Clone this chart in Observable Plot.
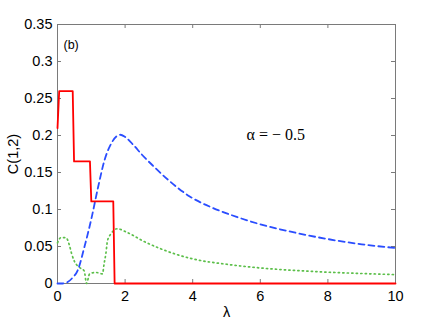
<!DOCTYPE html>
<html>
<head>
<meta charset="utf-8">
<script src="https://cdn.jsdelivr.net/npm/d3@7"></script>
<script src="https://cdn.jsdelivr.net/npm/@observablehq/plot@0.6"></script>
<style>
  html, body { margin: 0; padding: 0; background: #fff; }
  #chart svg { display: block; }
</style>
</head>
<body>
<div id="chart"></div>
<script>
// Tick labels
const xTicks = [0, 2, 4, 6, 8, 10];
const yTicks = [0, 0.05, 0.1, 0.15, 0.2, 0.25, 0.3, 0.35];

// Red solid series
const redX = [0, 0.05, 0.45, 0.49, 0.96, 1.0, 1.65, 1.69, 10];
const redY = [0.21, 0.26, 0.26, 0.165, 0.165, 0.111, 0.111, 0, 0];

// Blue dashed series
const blueX = [0, 0.15, 0.3, 0.45, 0.6, 0.8, 1.0, 1.2, 1.4, 1.6, 1.75, 1.86, 2.0, 2.25, 2.5, 2.85, 3.3, 3.9, 4.6, 5.3, 6, 7, 8, 9, 10];
const blueY = [0, 0, 0.002, 0.008, 0.018, 0.05, 0.087, 0.13, 0.168, 0.19, 0.199, 0.201, 0.198, 0.187, 0.174, 0.158, 0.139, 0.118, 0.102, 0.090, 0.080, 0.069, 0.060, 0.053, 0.048];

// Green dotted series
const greenX = [0, 0.1, 0.25, 0.35, 0.42, 0.5, 0.64, 0.79, 0.86, 0.95, 1.13, 1.33, 1.38, 1.43, 1.48, 1.58, 1.77, 2.06, 2.55, 3.05, 3.54, 4.03, 5, 6, 7, 8, 9, 10];
const greenY = [0.055, 0.062, 0.062, 0.052, 0.04, 0.03, 0.022, 0.017, 0, 0.013, 0.015, 0.013, 0.027, 0.04, 0.058, 0.067, 0.074, 0.069, 0.057, 0.047, 0.039, 0.033, 0.026, 0.021, 0.0177, 0.0153, 0.0135, 0.012];

const toRows = (xs, ys) => xs.map((x, i) => ({x, y: ys[i]}));
const red = toRows(redX, redY);
const blue = toRows(blueX, blueY);
const green = toRows(greenX, greenY);

const fmtY = d => d === 0 ? "0" : String(d);
const grey = "#7a7a7a";

const W = 436, H = 319, ML = 57, MR = 41, MT = 24, MB = 36;
const TS = 4;
const FW = W - ML - MR, FH = H - MT - MB;

const chart = Plot.plot({
  width: W,
  height: H,
  marginLeft: ML,
  marginRight: MR,
  marginTop: MT,
  marginBottom: MB,
  style: {fontFamily: "Liberation Sans, Arial, sans-serif", fontSize: "13px", color: "#000", background: "#fff"},
  x: {domain: [0, 10]},
  y: {domain: [0, 0.35]},
  marks: [
    // inward tick marks
    Plot.tickX(xTicks, {x: d => d, insetTop: FH - TS, stroke: grey}),
    Plot.tickX(xTicks, {x: d => d, insetBottom: FH - TS, stroke: grey}),
    Plot.tickY(yTicks, {y: d => d, insetRight: FW - TS, stroke: grey}),
    Plot.tickY(yTicks, {y: d => d, insetLeft: FW - TS, stroke: grey}),
    Plot.frame({stroke: grey, strokeWidth: 1}),
    // labels
    Plot.axisX({ticks: xTicks, tickSize: 0, tickPadding: 7, tickFormat: d => String(d), label: "λ", labelAnchor: "center", labelArrow: "none", labelOffset: 33, fontSize: 14.5}),
    Plot.axisY({ticks: yTicks, tickSize: 0, tickPadding: 5, tickFormat: fmtY, label: "C(1,2)", labelAnchor: "center", labelArrow: "none", labelOffset: 50, fontSize: 14.5}),
    Plot.line(green, {x: "x", y: "y", stroke: "#5cbf4a", strokeWidth: 1.7, strokeDasharray: "1.2,3.3", curve: "monotone-x"}),
    Plot.line(blue, {x: "x", y: "y", stroke: "#2a4dff", strokeWidth: 1.8, strokeDasharray: "6,4", curve: "monotone-x"}),
    Plot.line(red, {x: "x", y: "y", stroke: "#ff0000", strokeWidth: 1.8}),
    Plot.text(["(b)"], {frameAnchor: "top-left", dx: 6, dy: 16, textAnchor: "start", fontSize: 12.5}),
    Plot.text(["α = − 0.5"], {frameAnchor: "top-left", dx: 189, dy: 104, textAnchor: "start", fontFamily: "Liberation Serif, Times New Roman, serif", fontSize: 16})
  ]
});
document.getElementById("chart").appendChild(chart);
</script>
</body>
</html>
